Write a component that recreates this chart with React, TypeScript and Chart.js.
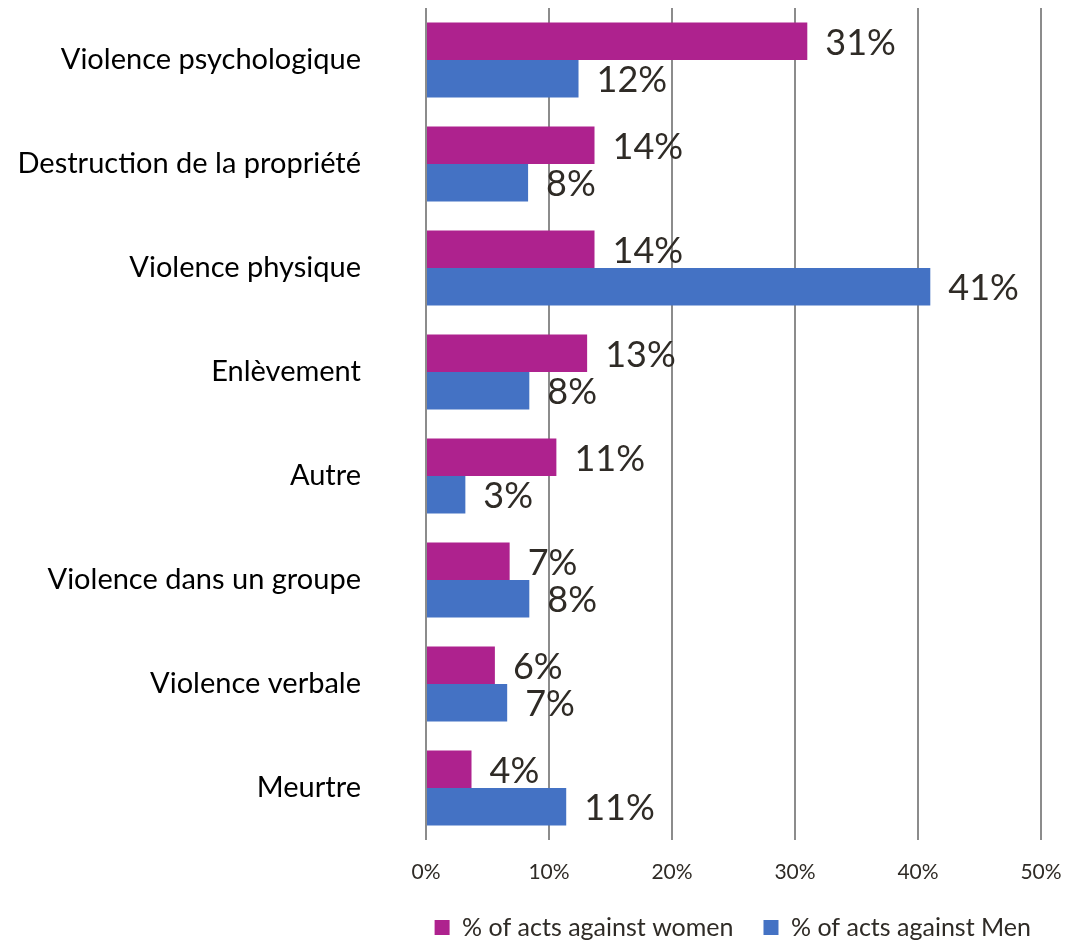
import React, { useEffect, useRef } from "react";
import { Chart, registerables } from "chart.js";

Chart.register(...registerables);

const categories = [
  "Violence psychologique",
  "Destruction de la propriété",
  "Violence physique",
  "Enlèvement",
  "Autre",
  "Violence dans un groupe",
  "Violence verbale",
  "Meurtre",
];
const womenValues = [31.0, 13.7, 13.7, 13.1, 10.6, 6.8, 5.6, 3.7];
const menValues = [12.4, 8.3, 41.0, 8.4, 3.2, 8.4, 6.6, 11.4];
const seriesLabels = ["% of acts against women", "% of acts against Men"];
const seriesColors = ["#AE228E", "#4472C4"];
const xMin = 0;
const xMax = 50;
const xStep = 10;

const FONT = "Lato";
const LEGEND_PAD = 30;

const valueLabelPlugin = {
  id: "valueLabels",
  afterDatasetsDraw(chart: any) {
    const ctx = chart.ctx;
    ctx.save();
    ctx.font = `36px ${FONT}`;
    ctx.fillStyle = "#2f2b26";
    ctx.textBaseline = "middle";
    ctx.textAlign = "left";
    chart.data.datasets.forEach((ds: any, i: number) => {
      const meta = chart.getDatasetMeta(i);
      meta.data.forEach((bar: any, j: number) => {
        const v = ds.data[j];
        ctx.fillText(Math.round(v) + "%", bar.x + 18, bar.y + 2);
      });
    });
    ctx.restore();
  },
};

export default function App() {
  const ref = useRef<HTMLCanvasElement | null>(null);
  useEffect(() => {
    if (!ref.current) return;
    const chart = new Chart(ref.current, {
      type: "bar",
      data: {
        labels: categories,
        datasets: [
          {
            label: seriesLabels[0],
            data: womenValues,
            backgroundColor: seriesColors[0],
            categoryPercentage: 0.72,
            barPercentage: 1,
          },
          {
            label: seriesLabels[1],
            data: menValues,
            backgroundColor: seriesColors[1],
            categoryPercentage: 0.72,
            barPercentage: 1,
          },
        ],
      },
      options: {
        indexAxis: "y",
        animation: false,
        responsive: true,
        maintainAspectRatio: false,
        layout: { padding: { top: 8, right: 9, left: 0, bottom: -6 } },
        scales: {
          x: {
            min: xMin,
            max: xMax,
            ticks: {
              stepSize: xStep,
              callback: (v: any) => v + "%",
              color: "#2f2b26",
              font: { family: FONT, size: 21 },
              padding: 20,
            },
            grid: { color: "#8c8c8c", lineWidth: 2, drawTicks: false },
            border: { display: false },
            afterFit: (scale: any) => {
              scale.height = 75 - LEGEND_PAD;
              scale.paddingLeft = 0;
              scale.paddingRight = 29;
            },
          },
          y: {
            ticks: {
              color: "#000000",
              font: { family: FONT, size: 29 },
              padding: 65,
            },
            grid: { display: false, drawTicks: false },
            border: { display: false },
            afterFit: (scale: any) => {
              scale.width = 426;
              scale.paddingTop = 0;
              scale.paddingBottom = 0;
            },
          },
        },
        plugins: {
          legend: {
            position: "bottom",
            align: "end",
            labels: {
              boxWidth: 15,
              boxHeight: 15,
              color: "#2f2b26",
              font: { family: FONT, size: 25 },
              padding: LEGEND_PAD,
            },
          },
          tooltip: { enabled: false },
        },
      },
      plugins: [valueLabelPlugin],
    });
    return () => chart.destroy();
  }, []);
  return (
    <div style={{ position: "fixed", left: 0, top: 0, width: 1070, height: 944, background: "#fff" }}>
      <canvas ref={ref} />
    </div>
  );
}
